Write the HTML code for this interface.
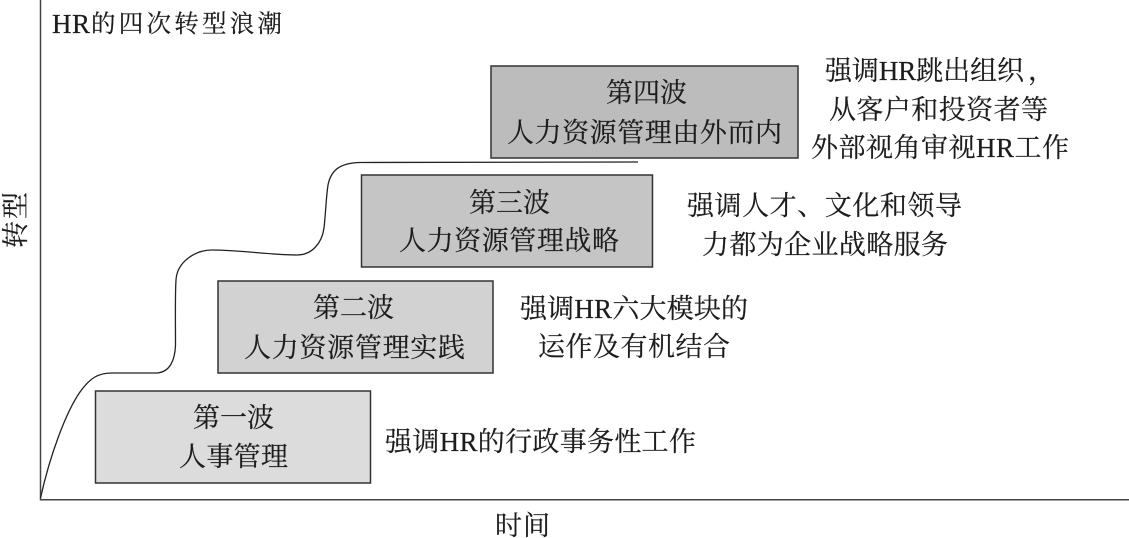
<!DOCTYPE html>
<html><head><meta charset="utf-8">
<style>
html,body{margin:0;padding:0;background:#fff;width:1129px;height:538px;overflow:hidden}
svg{display:block}
text{font-family:"Liberation Serif","Noto Serif CJK SC",serif;font-size:27px;fill:#1c1c1c;stroke:#1c1c1c;stroke-width:.2}
</style></head>
<body>
<svg width="1129" height="538" viewBox="0 0 1129 538" xmlns="http://www.w3.org/2000/svg">
<path d="M40.5 0V499.8H1129" fill="none" stroke="#444" stroke-width="1.5"/>
<path d="M40.5 498C50 455 66 412 80 392C90 378 98 373 112 373L157 373C170 372 175 360 175.500 345C175.500 320 175 295 176 280C177 262 195 250 212 250C240 250 270 255 297 255C312 255 322 243 324 228C326 210 326 198 328 185C331 170 340 163 360 162.500L638 162" fill="none" stroke="#222" stroke-width="1.3"/>
<rect x="95.500" y="391" width="275" height="92" fill="#dcdcdc" stroke="#333" stroke-width="1.5"/>
<rect x="218" y="281" width="275" height="92" fill="#d2d2d2" stroke="#333" stroke-width="1.5"/>
<rect x="361.500" y="175" width="291" height="92" fill="#c5c5c5" stroke="#333" stroke-width="1.5"/>
<rect x="491" y="66" width="307" height="92" fill="#bcbcbc" stroke="#333" stroke-width="1.5"/>
<text x="52" y="33" textLength="38" style="font-size:27px">HR</text>
<text x="91" y="32" textLength="191" style="font-size:24.500px">的四次转型浪潮</text>
<text transform="translate(25,248) rotate(-90)" textLength="56">转型</text>
<text x="495" y="535" textLength="55">时间</text>
<text x="193" y="427" textLength="81">第一波</text>
<text x="179" y="466" textLength="109">人事管理</text>
<text x="313" y="317" textLength="81">第二波</text>
<text x="244" y="357" textLength="221">人力资源管理实践</text>
<text x="469" y="212" textLength="81">第三波</text>
<text x="399" y="250" textLength="220">人力资源管理战略</text>
<text x="606" y="102" textLength="81">第四波</text>
<text x="507" y="142" textLength="275">人力资源管理由外而内</text>
<text x="385" y="451" textLength="311">强调HR的行政事务性工作</text>
<text x="520" y="318" textLength="228">强调HR六大模块的</text>
<text x="538" y="356" textLength="192">运作及有机结合</text>
<text x="687" y="215" textLength="275">强调人才、文化和领导</text>
<text x="702" y="254" textLength="246">力都为企业战略服务</text>
<text x="825" y="80" textLength="199">强调HR跳出组织</text>
<text x="1028" y="80">，</text>
<text x="829" y="119" textLength="219">从客户和投资者等</text>
<text x="811" y="157" textLength="258">外部视角审视HR工作</text>
</svg>
</body></html>
